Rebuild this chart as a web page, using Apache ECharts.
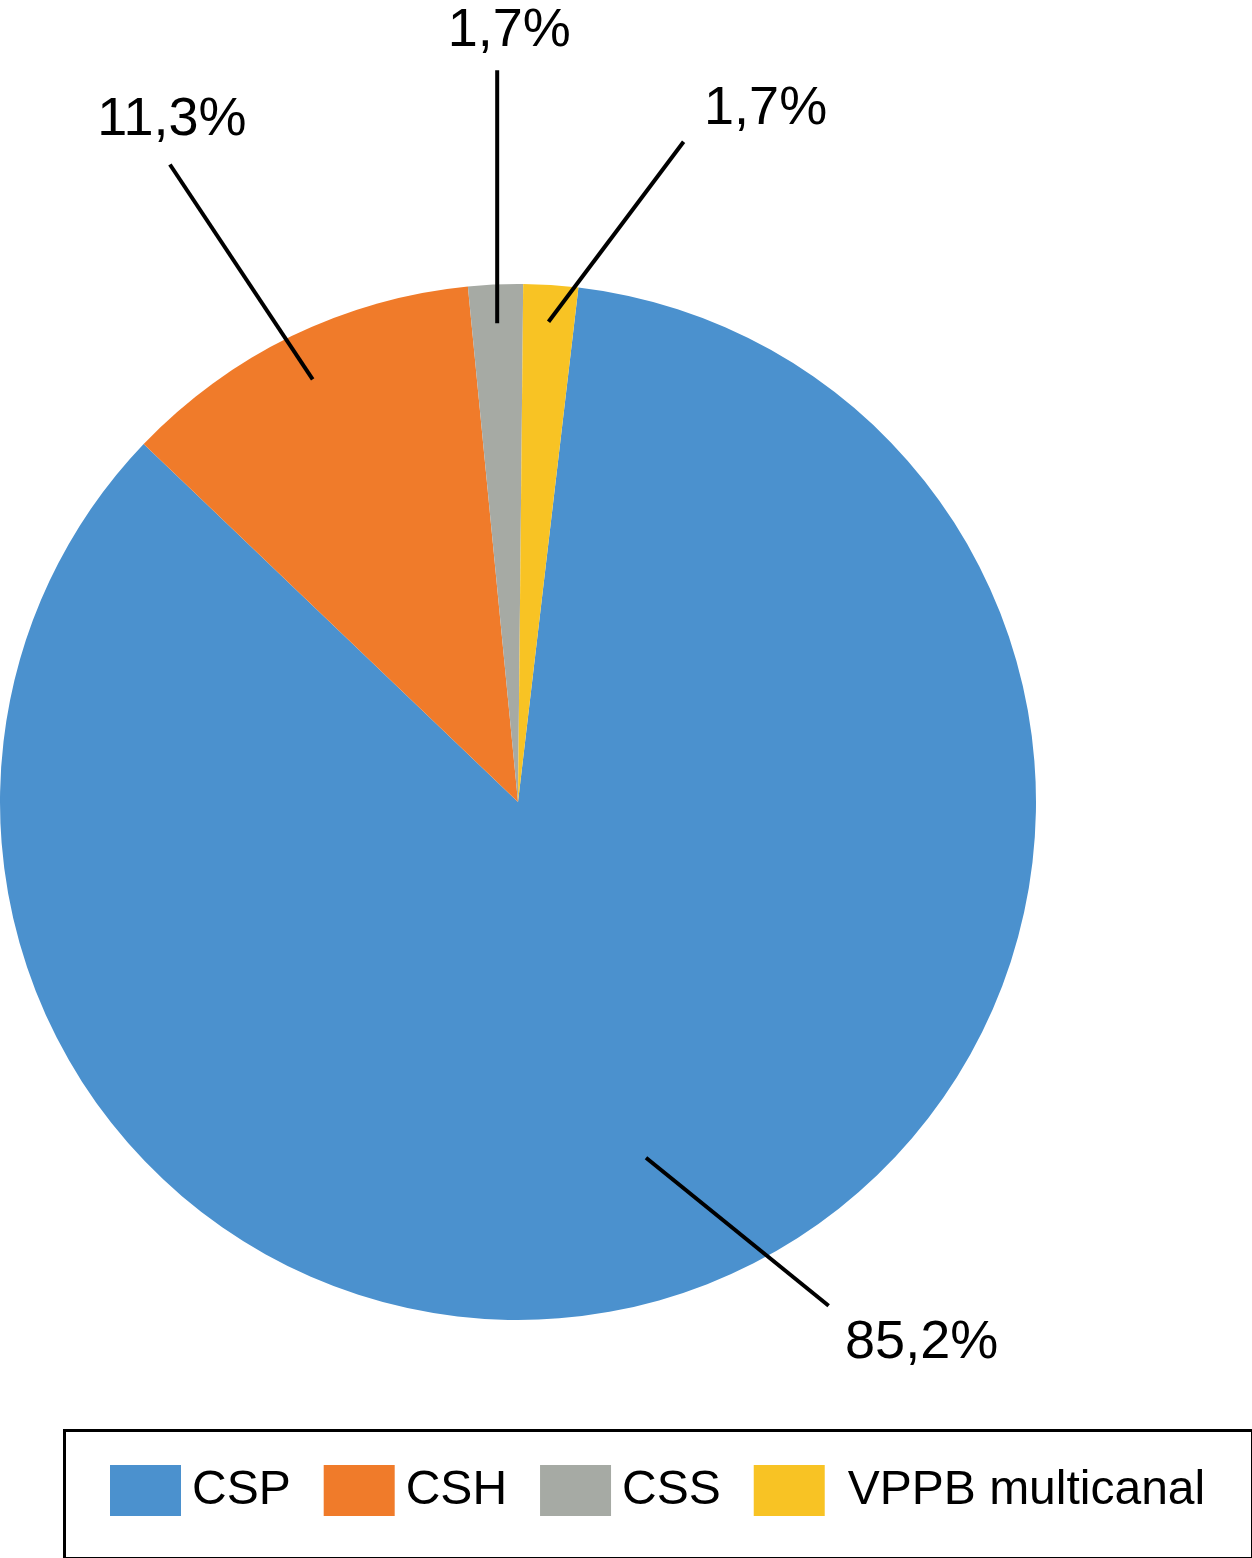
<!DOCTYPE html>
<html><head><meta charset="utf-8">
<script src="https://cdn.jsdelivr.net/npm/echarts@6/dist/echarts.min.js"></script>
<style>html,body{margin:0;padding:0;background:#fff}#c{width:1252px;height:1558px}</style>
</head><body><div id="c"></div>
<script>
// ---- data ----
const categories = ['CSP', 'CSH', 'CSS', 'VPPB multicanal'];
const values = [85.2, 11.3, 1.7, 1.7];
const colors = ['#4B91CE', '#F07B2A', '#A6AAA4', '#F8C324'];

// ---- leader line styling (layout only) ----
const leaderStart = [0.73, 0.907, 0.925, 0.929];   // fraction of radius where line begins
const leaderAngle = [-39, 123.6, 90, 53.1];          // direction of line, degrees
const leaderLen = [235, 258, 253, 225];              // px
const labelShift = [[93, 37], [2, -44], [12, -39], [82, -33]];
const legendTextPad = [6, 6, 6, 18];

const CX = 518, CY = 802, R = 518;
const START = 83.3;
const FONT = '"Liberation Sans", Arial, Helvetica, sans-serif';

const total = values.reduce((a, b) => a + b, 0);
const pieData = categories.map((n, i) => ({name: n, value: values[i]}));

const chart = echarts.init(document.getElementById('c'), null, {renderer: 'canvas'});
chart.setOption({
  animation: false,
  backgroundColor: '#ffffff',
  color: colors,
  legend: {
    left: 110, top: 1465,
    padding: 0,
    icon: 'rect',
    itemWidth: 71, itemHeight: 51, itemGap: 33,
    data: categories.map((n, i) => ({
      name: n,
      itemStyle: {color: colors[i]},
      textStyle: {padding: [0, 0, 0, legendTextPad[i]]}
    })),
    textStyle: {fontSize: 48, color: '#000', fontFamily: FONT}
  },
  graphic: [{
    type: 'rect', left: 62, top: 1428, silent: true,
    shape: {width: 1188, height: 128},
    style: {fill: 'none', stroke: '#000', lineWidth: 3}
  }],
  series: [{
    type: 'pie',
    z: 2,
    center: [CX, CY],
    radius: [0, R],
    startAngle: START,
    clockwise: true,
    itemStyle: {borderWidth: 0},
    emphasis: {disabled: true},
    data: pieData,
    label: {show: false},
    labelLine: {show: false}
  }, {
    type: 'pie',
    z: 5,
    silent: true,
    center: [CX, CY],
    radius: [0, R],
    startAngle: START,
    clockwise: true,
    avoidLabelOverlap: false,
    itemStyle: {color: 'rgba(0,0,0,0)', borderWidth: 0},
    emphasis: {disabled: true},
    data: pieData,
    label: {
      show: true, position: 'outside',
      fontSize: 54, color: '#000', fontFamily: FONT,
      formatter: p => values[p.dataIndex].toFixed(1).replace('.', ',') + '%'
    },
    labelLine: {show: true, length: 20, length2: 0, lineStyle: {color: '#000', width: 4, opacity: 1}},
    labelLayout: function (p) {
      const i = p.dataIndex;
      let ang;
      const pts = p.labelLinePoints;
      if (pts && pts.length) {
        ang = Math.atan2(pts[0][1] - CY, pts[0][0] - CX);
      } else {
        let before = 0;
        for (let k = 0; k < i; k++) before += values[k];
        const mid = (START - (before + values[i] / 2) / total * 360) * Math.PI / 180;
        ang = Math.atan2(-Math.sin(mid), Math.cos(mid));
      }
      const sx = CX + Math.cos(ang) * R * leaderStart[i];
      const sy = CY + Math.sin(ang) * R * leaderStart[i];
      const a = leaderAngle[i] * Math.PI / 180;
      const ex = sx + Math.cos(a) * leaderLen[i];
      const ey = sy - Math.sin(a) * leaderLen[i];
      return {
        x: ex + labelShift[i][0], y: ey + labelShift[i][1],
        align: 'center', verticalAlign: 'middle',
        labelLinePoints: [[sx, sy], [ex, ey], [ex, ey]]
      };
    }
  }]
});
</script>
</body></html>
